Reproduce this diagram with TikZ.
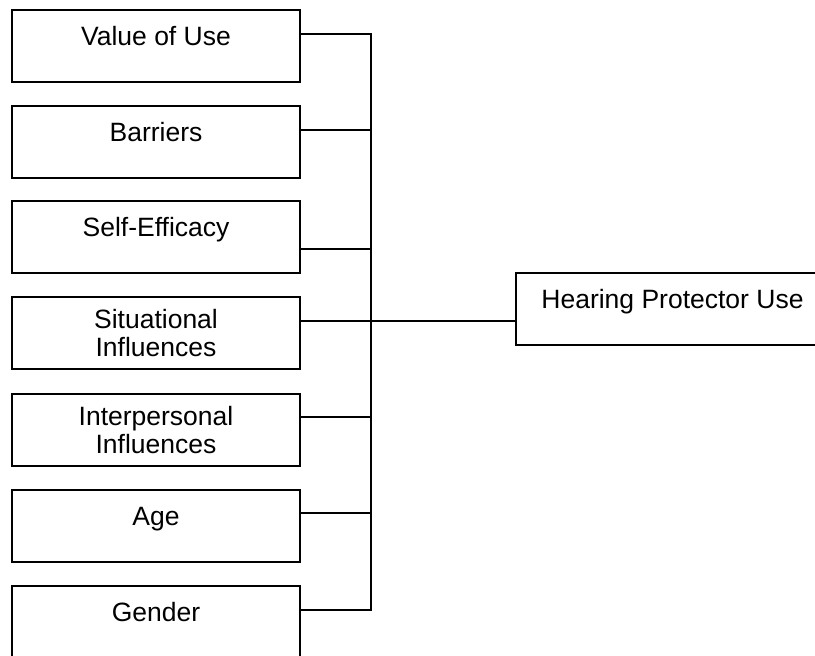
\documentclass[tikz,border=0pt]{standalone}
\usepackage{fontspec}
\setmainfont{Liberation Sans}
\usepackage{tikz}
\tikzstyle{factor}=[draw, thick, rectangle, minimum width=144pt, minimum height=36pt, inner xsep=2pt, font=\fontsize{13.25}{14}\selectfont]
\tikzstyle{topline}=[text height=18pt, text depth=18pt, inner ysep=0pt]
\tikzstyle{twoline}=[align=center]
\tikzstyle{link}=[thick]

\begin{document}
\begin{tikzpicture}[x=0.5pt, y=-0.5pt]
            \clip (0,0) rectangle (815,656);
            % Factores
            \node[factor, topline] (value) at (156,46) {Value of Use};
            \node[factor, topline] (barriers) at (156,142) {Barriers};
            \node[factor, topline] (selfeff) at (156,237) {Self-Efficacy};
            \node[factor, twoline] (situational) at (156,333) {Situational\\Influences};
            \node[factor, twoline] (interpersonal) at (156,430) {Interpersonal\\Influences};
            \node[factor, topline] (age) at (156,526) {Age};
            \node[factor, topline] (gender) at (156,622) {Gender};
            % Resultado
            \node[factor, topline, minimum width=156.5pt] (hpu) at (672.5,309) {Hearing Protector Use};
            % Conexiones
            \coordinate (bus) at (371,0);
            \draw[link] ([yshift=6pt]value.east) -- ([yshift=6pt]value.east -| bus)
                -- ([yshift=6pt]gender.east -| bus) -- ([yshift=6pt]gender.east);
            \draw[link] ([yshift=6pt]barriers.east) -- ([yshift=6pt]barriers.east -| bus);
            \draw[link] ([yshift=-6pt]selfeff.east) -- ([yshift=-6pt]selfeff.east -| bus);
            \draw[link] ([yshift=6pt]situational.east) -- ([yshift=-6pt]hpu.west);
            \draw[link] ([yshift=6.5pt]interpersonal.east) -- ([yshift=6.5pt]interpersonal.east -| bus);
            \draw[link] ([yshift=6.5pt]age.east) -- ([yshift=6.5pt]age.east -| bus);
        \end{tikzpicture}
\end{document}
